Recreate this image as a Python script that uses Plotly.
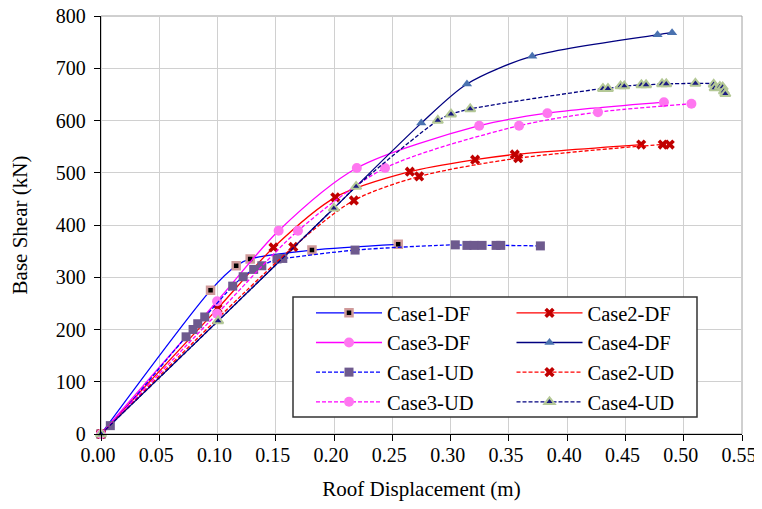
import plotly.graph_objects as go

# ---------------- data ----------------
c1_df_x = [0, 0.094, 0.116, 0.128, 0.181, 0.255]
c1_df_y = [0, 275, 322, 335, 352, 363]

c1_ud_x = [0, 0.008, 0.073, 0.079, 0.083, 0.089, 0.113, 0.122, 0.131, 0.138, 0.151, 0.156,
           0.218, 0.304, 0.314, 0.320, 0.327, 0.339, 0.343, 0.377]
c1_ud_y = [0, 16, 186, 200, 211, 224, 283, 301, 315, 322, 335, 336,
           352, 362, 361, 361, 361, 361, 361, 360]

c2_df_x = [0, 0.100, 0.148, 0.201, 0.265, 0.321, 0.355, 0.4635]
c2_df_y = [0, 240, 357, 453, 502, 525, 535, 554]

c2_ud_x = [0, 0.165, 0.217, 0.273, 0.358, 0.482, 0.488]
c2_ud_y = [0, 358, 447, 493, 528, 554, 554]

c3_df_x = [0, 0.0996, 0.1524, 0.2195, 0.3245, 0.383, 0.483]
c3_df_y = [0, 254, 389, 509, 590, 614, 635]

c3_ud_x = [0, 0.0996, 0.169, 0.2437, 0.3587, 0.4264, 0.5066]
c3_ud_y = [0, 230, 389, 509, 590, 616, 632]

c4_df_x = [0, 0.1005, 0.1998, 0.2748, 0.314, 0.370, 0.4775, 0.490]
c4_df_y = [0, 216.5, 432, 595, 670, 723, 764, 768]

c4_ud_x = [0, 0.1005, 0.1998, 0.2189, 0.289, 0.3003, 0.3168, 0.4307, 0.435, 0.4458, 0.449,
           0.4637, 0.4677, 0.4814, 0.485, 0.51, 0.5257, 0.5265, 0.531, 0.5334, 0.5345, 0.5357]
c4_ud_y = [0, 216.5, 432, 473.5, 600, 612, 622, 661, 661, 666, 666,
           668, 668, 670, 670, 671, 669, 662, 665, 664, 656, 651]

x_ticks = [0.00, 0.05, 0.10, 0.15, 0.20, 0.25, 0.30, 0.35, 0.40, 0.45, 0.50, 0.55]
y_ticks = [0, 100, 200, 300, 400, 500, 600, 700, 800]

FONT = "Liberation Serif"
DASH = "4px,2px"

fig = go.Figure()

def add(name, x, y, color, dash, marker, legend):
    fig.add_trace(go.Scatter(
        x=x, y=y, name=name, mode="lines+markers", cliponaxis=False,
        line=dict(color=color, width=1.3, dash=dash, shape="spline", smoothing=0.8),
        marker=marker, legend=legend))

add("Case1-DF", c1_df_x, c1_df_y, "#0000ff", "solid",
    dict(symbol="square", size=7, color="#000000", line=dict(color="#d09a9a", width=2.5)), "legend")
add("Case2-DF", c2_df_x, c2_df_y, "#ff0000", "solid",
    dict(symbol="x", size=9, color="#c00000"), "legend2")
add("Case3-DF", c3_df_x, c3_df_y, "#ff00ff", "solid",
    dict(symbol="circle", size=10, color="#ff77f0"), "legend")
add("Case4-DF", c4_df_x, c4_df_y, "#000080", "solid",
    dict(symbol="triangle-up", size=9, color="#4a72b0"), "legend2")
add("Case1-UD", c1_ud_x, c1_ud_y, "#0000ff", DASH,
    dict(symbol="square", size=9, color="#6e5a8e"), "legend")
add("Case2-UD", c2_ud_x, c2_ud_y, "#ff0000", DASH,
    dict(symbol="x", size=9, color="#c00000"), "legend2")
add("Case3-UD", c3_ud_x, c3_ud_y, "#ff00ff", DASH,
    dict(symbol="circle", size=10, color="#ff77f0"), "legend")
add("Case4-UD", c4_ud_x, c4_ud_y, "#000080", DASH,
    dict(symbol="triangle-up", size=9, color="#1a1a80", line=dict(color="#b4c896", width=2)), "legend2")

# the page places the figure 8px from the window's top-left corner;
# keep the page height inside the window so no scrollbar appears
W, H = 754, 493
L, R, T, B = 93, 20, 8, 67
pw, ph = W - L - R, H - T - B

def px2x(p):
    return (p - L) / pw

def py2y(p):
    return (H - B - p) / ph

# plot-area border (grey top/right) and legend box
fig.add_shape(type="rect", xref="paper", yref="paper", x0=0, x1=1, y0=0, y1=1,
              line=dict(color="#a0a0a0", width=1), layer="below")
fig.add_shape(type="rect", xref="paper", yref="paper",
              x0=px2x(285), x1=px2x(689), y0=py2y(409), y1=py2y(289),
              line=dict(color="#333333", width=1.5), fillcolor="white", layer="above")

leg_common = dict(font=dict(family=FONT, size=20.5, color="black"), bgcolor="rgba(0,0,0,0)",
                  borderwidth=0, itemwidth=66, xanchor="left", yanchor="top",
                  orientation="v", tracegroupgap=0)

fig.update_layout(
    width=W, height=H,
    margin=dict(l=L, r=R, t=T, b=B, autoexpand=False),
    paper_bgcolor="white", plot_bgcolor="white",
    font=dict(family=FONT, size=21, color="black"),
    showlegend=True,
    legend=dict(x=px2x(303), y=py2y(285), **leg_common),
    legend2=dict(x=px2x(503.5), y=py2y(285), **leg_common),
    xaxis=dict(range=[0, 0.55], tickvals=x_ticks, tickformat=".2f", automargin=False,
               showgrid=True, gridcolor="#d0d0d0", gridwidth=1,
               showline=True, linecolor="black", linewidth=1.3,
               ticks="outside", ticklen=6, tickcolor="black",
               ticklabelshift=-3, ticklabelstandoff=-3, ticklabeloverflow="allow",
               zeroline=False, tickfont=dict(family=FONT, size=20, color="black"),
               title=dict(text="Roof Displacement (m)", font=dict(family=FONT, size=21, color="black"),
                          standoff=17)),
    yaxis=dict(range=[0, 800], tickvals=y_ticks, automargin=False,
               showgrid=True, gridcolor="#d0d0d0", gridwidth=1,
               showline=True, linecolor="black", linewidth=1.3,
               ticks="outside", ticklen=6, tickcolor="black",
               ticklabelstandoff=4, ticklabeloverflow="allow",
               zeroline=False, tickfont=dict(family=FONT, size=20, color="black"),
               title=dict(text="Base Shear (kN)", font=dict(family=FONT, size=21, color="black"),
                          standoff=27)),
)

fig.write_html("out.html")
